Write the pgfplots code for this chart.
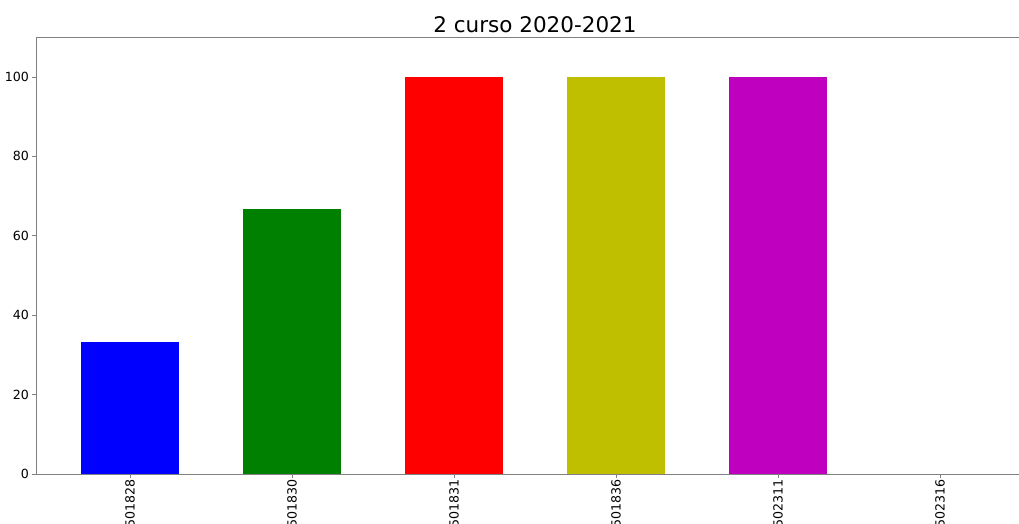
\documentclass[border=0pt]{standalone}
\usepackage{pgfplots}
\pgfplotsset{compat=1.18}
\usepackage{fontspec}
\setmainfont{DejaVu Sans}
\definecolor{mplgreen}{RGB}{0,128,0}
\definecolor{mply}{RGB}{191,191,0}
\definecolor{mplm}{RGB}{191,0,191}
\definecolor{spine}{RGB}{128,128,128}
\begin{document}
\begin{tikzpicture}[x=1pt,y=1pt]
\clip (0,0) rectangle (1019,524);
\fill[white] (0,0) rectangle (1019,524);
\begin{axis}[
  at={(36pt,50pt)}, anchor=south west,
  width=998pt, height=437pt, scale only axis,
  xmin=-0.58, xmax=5.58, ymin=0, ymax=110,
  ybar, bar width=0.6, bar shift=0pt,
  xtick={0,1,2,3,4,5},
  xticklabels={501828,501830,501831,501836,502311,502316},
  x tick label style={rotate=90, anchor=east, inner sep=1.5pt, font=\fontsize{12.6}{14}\selectfont},
  ytick={0,20,40,60,80,100},
  y tick label style={font=\fontsize{12.6}{14}\selectfont},
  /pgf/number format/assume math mode=true,
  axis line style={spine},
  axis x line*=bottom, axis y line*=left,
  tick style={spine, thin},
  tick align=outside,
  major tick length=3.5pt,
  title={2 curso 2020-2021},
  title style={font=\fontsize{21.5}{24}\selectfont, yshift=-5pt},
  every axis plot/.append style={draw=none},
]
\draw[spine] (axis cs:-0.58,110) -- (axis cs:5.58,110);
\addplot[fill=blue] coordinates {(0,33.33)};
\addplot[fill=mplgreen] coordinates {(1,66.67)};
\addplot[fill=red] coordinates {(2,100)};
\addplot[fill=mply] coordinates {(3,100)};
\addplot[fill=mplm] coordinates {(4,100)};
\end{axis}
\end{tikzpicture}
\end{document}
